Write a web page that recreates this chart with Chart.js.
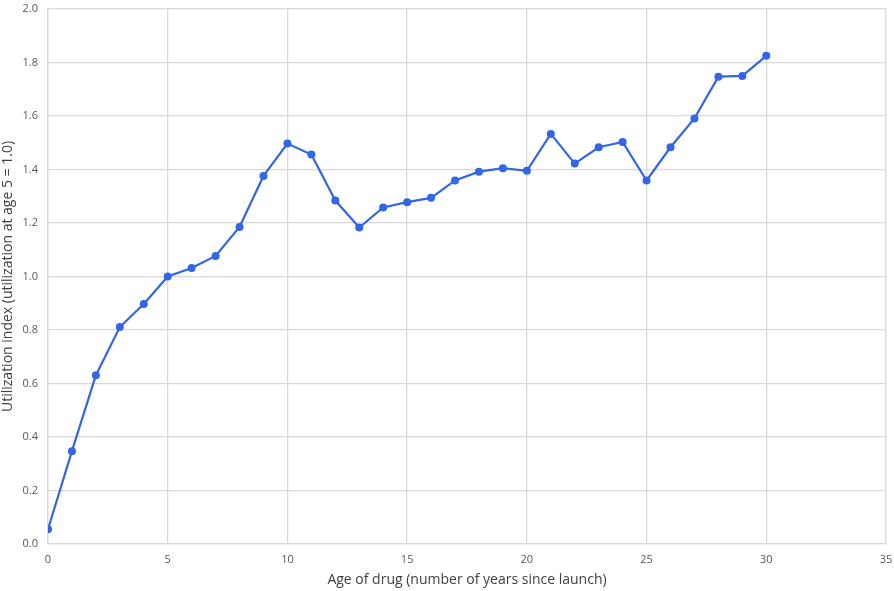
<!DOCTYPE html>
<html>
<head>
<meta charset="utf-8">
<script src="https://cdn.jsdelivr.net/npm/chart.js@4"></script>
<style>
  html, body { margin: 0; padding: 0; background: #fff; }
  #wrap { width: 894px; height: 591px; }
</style>
</head>
<body>
<div id="wrap"><canvas id="chart" width="894" height="591"></canvas></div>
<script>
// drug age (years since launch) and utilization index (age 5 = 1.0)
const ages = [0,1,2,3,4,5,6,7,8,9,10,11,12,13,14,15,16,17,18,19,20,21,22,23,24,25,26,27,28,29,30];
const utilIndex = [0.055,0.347,0.631,0.811,0.897,1.0,1.032,1.077,1.185,1.376,1.497,1.456,1.284,1.183,1.258,
                   1.278,1.294,1.359,1.392,1.405,1.395,1.533,1.422,1.483,1.503,1.359,1.483,1.591,1.747,1.750,1.825];
const xTicks = [0,5,10,15,20,25,30,35];

const blue = '#3366e6';
const gridCol = '#d9d9d9';

const points = ages.map((a, i) => ({ x: a, y: utilIndex[i] }));

new Chart(document.getElementById('chart').getContext('2d'), {
  type: 'line',
  data: {
    datasets: [{
      data: points,
      borderColor: blue,
      backgroundColor: blue,
      borderWidth: 2.2,
      pointRadius: 4,
      pointBorderWidth: 0,
      tension: 0
    }]
  },
  options: {
    responsive: false,
    animation: false,
    layout: { padding: { top: 9, right: 8, left: 0, bottom: 0 } },
    plugins: { legend: { display: false }, tooltip: { enabled: false } },
    scales: {
      x: {
        type: 'linear',
        min: 0, max: 35,
        afterBuildTicks: s => { s.ticks = xTicks.map(v => ({ value: v })); },
        afterFit: s => { s.height = 47; s.paddingLeft = 0; s.paddingRight = 0; },
        grid: { color: gridCol, lineWidth: 1.3, drawTicks: false },
        border: { color: gridCol, width: 1.3 },
        ticks: { padding: 9, color: '#595959', font: { family: 'Open Sans', size: 11 } },
        title: {
          display: true,
          text: 'Age of drug (number of years since launch)',
          color: '#404040',
          font: { family: 'Open Sans', size: 14 },
          padding: { top: 0, bottom: 3 }
        }
      },
      y: {
        min: 0, max: 2,
        afterFit: s => { s.width = 48; s.paddingTop = 0; s.paddingBottom = 0; },
        grid: { color: gridCol, lineWidth: 1.3, drawTicks: false },
        border: { color: gridCol, width: 1.3 },
        ticks: {
          stepSize: 0.2,
          padding: 10,
          color: '#595959',
          font: { family: 'Open Sans', size: 11 },
          callback: v => v.toFixed(1)
        },
        title: {
          display: true,
          text: 'Utilization index (utilization at age 5 = 1.0)',
          color: '#404040',
          font: { family: 'Open Sans', size: 14 },
          padding: { top: 0, bottom: 0 }
        }
      }
    }
  }
});
</script>
</body>
</html>
